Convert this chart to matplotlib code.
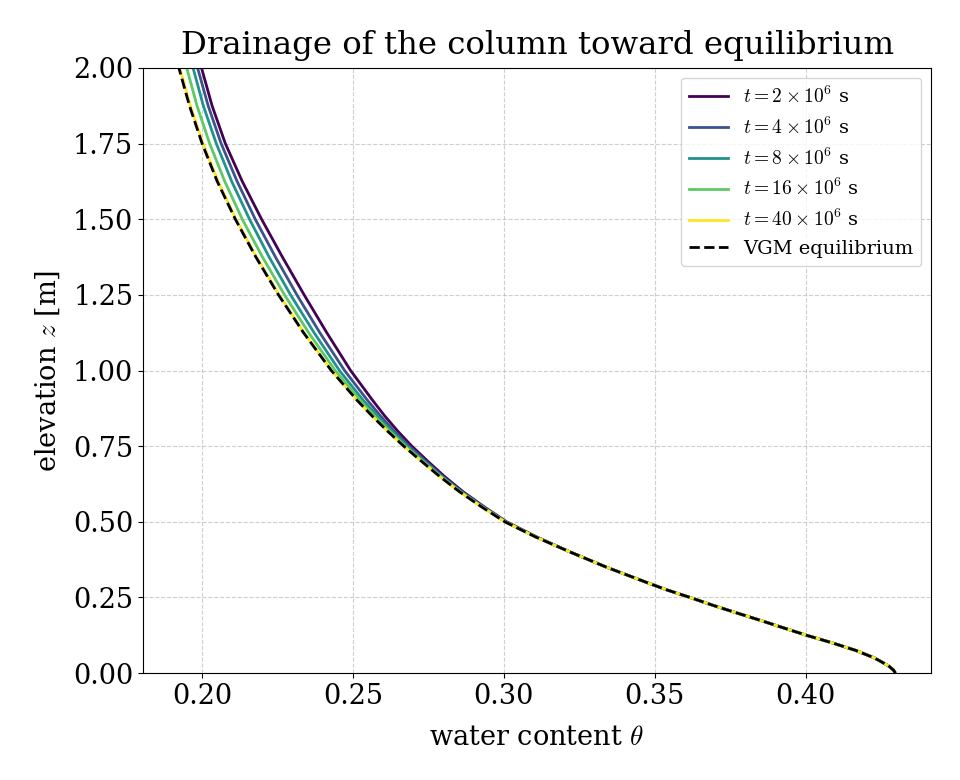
import numpy as np
import matplotlib.pyplot as plt

plt.rcParams['font.family'] = 'DejaVu Serif'
plt.rcParams['mathtext.fontset'] = 'cm'

# elevation [m]
z = [0.0, 0.01, 0.025, 0.05, 0.075, 0.1, 0.125, 0.15, 0.175, 0.2, 0.225, 0.25,
     0.275, 0.3, 0.35, 0.4, 0.45, 0.5, 0.55, 0.6, 0.65, 0.7, 0.75, 0.8, 0.85,
     0.9, 1.0, 1.125, 1.25, 1.375, 1.5, 1.625, 1.75, 1.875, 2.0]

# lower part (z <= 0.4) is shared by all profiles
low = [0.4297, 0.4291, 0.4273, 0.4228, 0.4166, 0.4088, 0.4003, 0.3925, 0.3848,
       0.3768, 0.3690, 0.3617, 0.3540, 0.3472, 0.3340, 0.3220]

theta_eq = low + [0.3105, 0.3003, 0.2925, 0.2852, 0.2787, 0.2727, 0.2668, 0.2614,
                  0.2563, 0.2515, 0.2428, 0.2336, 0.2253, 0.2178, 0.2110, 0.2050,
                  0.2000, 0.1958, 0.1923]
theta_t2 = low + [0.3109, 0.3009, 0.2934, 0.2864, 0.2803, 0.2748, 0.2695, 0.2648,
                  0.2605, 0.2566, 0.2492, 0.2413, 0.2338, 0.2266, 0.2197, 0.2133,
                  0.2077, 0.2033, 0.1998]
theta_t4 = low + [0.3107, 0.3007, 0.2931, 0.2860, 0.2797, 0.2741, 0.2686, 0.2636,
                  0.2591, 0.2549, 0.2472, 0.2390, 0.2314, 0.2243, 0.2176, 0.2116,
                  0.2063, 0.2020, 0.1985]
theta_t8 = low + [0.3106, 0.3005, 0.2929, 0.2857, 0.2793, 0.2735, 0.2679, 0.2628,
                  0.2580, 0.2535, 0.2455, 0.2371, 0.2293, 0.2222, 0.2157, 0.2098,
                  0.2047, 0.2004, 0.1970]
theta_t16 = low + [0.3105, 0.3004, 0.2927, 0.2854, 0.2790, 0.2731, 0.2673, 0.2621,
                   0.2571, 0.2525, 0.2441, 0.2353, 0.2273, 0.2200, 0.2133, 0.2075,
                   0.2025, 0.1983, 0.1949]
theta_t40 = low + [0.3105, 0.3003, 0.2925, 0.2852, 0.2787, 0.2727, 0.2668, 0.2614,
                   0.2563, 0.2515, 0.2429, 0.2337, 0.2255, 0.2180, 0.2112, 0.2053,
                   0.2003, 0.1961, 0.1926]

labels = [r'$t = 2\times10^6$ s', r'$t = 4\times10^6$ s', r'$t = 8\times10^6$ s',
          r'$t = 16\times10^6$ s', r'$t = 40\times10^6$ s']
profiles = [theta_t2, theta_t4, theta_t8, theta_t16, theta_t40]
colors = plt.cm.viridis(np.linspace(0, 1, len(profiles)))

fig = plt.figure(figsize=(9.6, 7.8), dpi=100)
ax = fig.add_axes([0.149, 0.137, 0.821, 0.776])

for th, lab, c in zip(profiles, labels, colors):
    ax.plot(th, z, color=c, lw=2, label=lab)
ax.plot(theta_eq, z, 'k--', lw=2, label='VGM equilibrium')

ax.set_ylim(0, 2)
ax.set_xlabel(r'water content $\theta$', fontsize=19.5, labelpad=10)
ax.set_ylabel(r'elevation $z$ [m]', fontsize=19.5, labelpad=8)
ax.set_title('Drainage of the column toward equilibrium', fontsize=23.3, pad=10)
ax.tick_params(labelsize=19.5)
ax.grid(True, linestyle='--', alpha=0.6)
ax.legend(loc='upper right', fontsize=14)

fig.savefig('out.png', dpi=100)
